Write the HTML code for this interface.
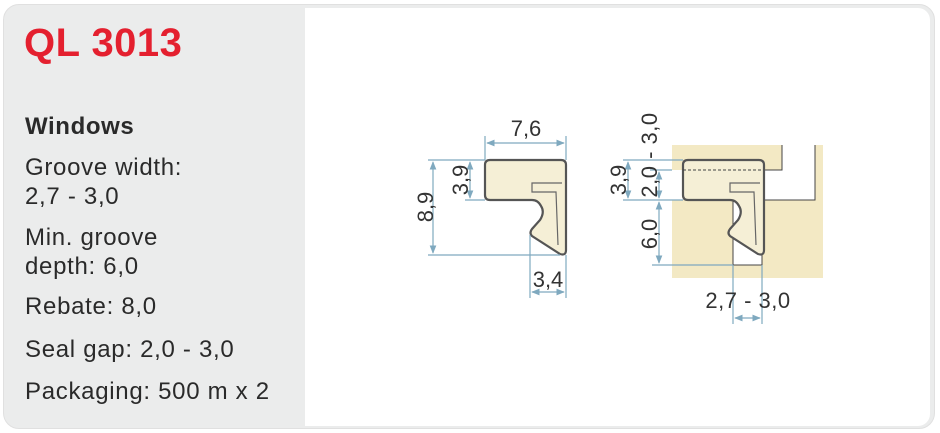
<!DOCTYPE html>
<html><head><style>
body{margin:0;background:#fff;width:940px;height:433px;overflow:hidden;font-family:"Liberation Sans",sans-serif;}
.card{position:absolute;left:3px;top:4px;width:932px;height:425px;border-radius:16px;background:#ebecec;border:1px solid #e0e0e0;box-sizing:border-box;}
.white{position:absolute;left:305px;top:8px;width:625px;height:418px;background:#fff;border-radius:0 12px 12px 0;}
.t{position:absolute;left:25px;color:#2a2a2a;font-size:24px;letter-spacing:0.7px;line-height:28px;white-space:nowrap;}
h1{position:absolute;left:24px;top:21px;margin:0;font-size:40px;color:#e4202f;font-weight:bold;line-height:44px;letter-spacing:0.5px;}
</style></head><body>
<div class="card"></div>
<div class="white"></div>
<h1>QL 3013</h1>
<div class="t" style="top:113px;font-weight:bold;letter-spacing:0.6px;">Windows</div>
<div class="t" style="top:154px;">Groove width:</div>
<div class="t" style="top:183px;">2,7 - 3,0</div>
<div class="t" style="top:224px;">Min. groove</div>
<div class="t" style="top:253px;">depth: 6,0</div>
<div class="t" style="top:293px;">Rebate: 8,0</div>
<div class="t" style="top:336px;">Seal gap: 2,0 - 3,0</div>
<div class="t" style="top:378px;">Packaging: 500 m x 2</div>
<svg style="position:absolute;left:0;top:0" width="940" height="433" font-family="Liberation Sans, sans-serif" font-size="22" fill="#333">
<defs><marker id="a" viewBox="0 0 10 10" refX="9" refY="5" markerWidth="7" markerHeight="7" orient="auto-start-reverse"><path d="M0,1 L10,5 L0,9 z" fill="#7fa9bf"/></marker></defs>
<g>
<rect x="672" y="145" width="110" height="25" fill="#f3e9c4"/>
<rect x="815" y="145" width="8" height="55" fill="#f3e9c4"/>
<rect x="672" y="200" width="151" height="78" fill="#f3e9c4"/>
<rect x="733" y="200" width="29" height="65" fill="#fff"/>
<path d="M782 145 V170 H762 M815 145 V200 H762" fill="none" stroke="#444" stroke-width="1"/>
<path d="M733 200 V265 H762 V200" fill="none" stroke="#444" stroke-width="1"/>
</g>
<g id="p">
<path d="M490 160 H561 Q566 160 566 165 V250 Q566 256 560 254 L532 236 Q529 233 532 229 L540 220 Q545 212 541 206 Q538 200 532 200 H490 Q485 200 485 195 V165 Q485 160 490 160 Z" fill="#f5efd6" stroke="#555" stroke-width="2.2"/>
<path d="M562 183 H532 V192 H556 L558 245" fill="none" stroke="#666" stroke-width="1.2"/>
</g>
<use href="#p" transform="translate(198,0)"/>
<line x1="683" y1="170" x2="762" y2="170" stroke="#444" stroke-dasharray="3,2"/>
<g stroke="#7fa9bf" stroke-width="1.2" fill="none">
<line x1="485" y1="160" x2="485" y2="136"/><line x1="566" y1="160" x2="566" y2="136"/>
<line x1="487" y1="143" x2="564" y2="143" marker-start="url(#a)" marker-end="url(#a)"/>
<line x1="428" y1="160" x2="485" y2="160"/><line x1="428" y1="255" x2="560" y2="255"/>
<line x1="433" y1="162" x2="433" y2="253" marker-start="url(#a)" marker-end="url(#a)"/>
<line x1="465" y1="200" x2="485" y2="200"/>
<line x1="470" y1="162" x2="470" y2="198" marker-start="url(#a)" marker-end="url(#a)"/>
<line x1="530" y1="235" x2="530" y2="298"/><line x1="566" y1="255" x2="566" y2="298"/>
<line x1="532" y1="292" x2="564" y2="292" marker-start="url(#a)" marker-end="url(#a)"/>
<line x1="623" y1="160" x2="683" y2="160"/><line x1="623" y1="200" x2="683" y2="200"/>
<line x1="650" y1="170" x2="672" y2="170"/><line x1="652" y1="265" x2="733" y2="265"/>
<line x1="628" y1="162" x2="628" y2="198" marker-start="url(#a)" marker-end="url(#a)"/>
<line x1="659" y1="172" x2="659" y2="198" marker-start="url(#a)" marker-end="url(#a)"/>
<line x1="659" y1="202" x2="659" y2="263" marker-start="url(#a)" marker-end="url(#a)"/>
<line x1="733" y1="265" x2="733" y2="324"/><line x1="762" y1="265" x2="762" y2="324"/>
<line x1="735" y1="318" x2="760" y2="318" marker-start="url(#a)" marker-end="url(#a)"/>
</g>
<text x="526" y="136" text-anchor="middle">7,6</text>
<text x="548" y="287" text-anchor="middle">3,4</text>
<text x="748" y="308" text-anchor="middle" letter-spacing="0.5">2,7 - 3,0</text>
<text transform="translate(433,207) rotate(-90)" text-anchor="middle">8,9</text>
<text transform="translate(468,180) rotate(-90)" text-anchor="middle">3,9</text>
<text transform="translate(626,180) rotate(-90)" text-anchor="middle">3,9</text>
<text transform="translate(657,234) rotate(-90)" text-anchor="middle">6,0</text>
<text transform="translate(657,155) rotate(-90)" text-anchor="middle" letter-spacing="0.5">2,0 - 3,0</text>
</svg>
</body></html>
